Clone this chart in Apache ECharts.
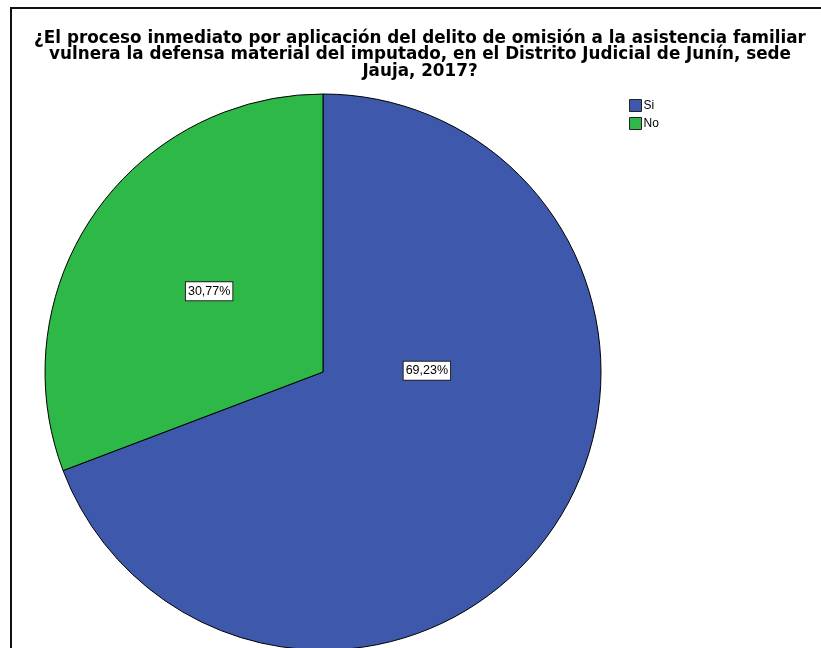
<!DOCTYPE html>
<html>
<head>
<meta charset="utf-8">
<script src="https://cdn.jsdelivr.net/npm/echarts@6/dist/echarts.min.js"></script>
<style>
  html, body { margin: 0; padding: 0; background: #fff; }
</style>
</head>
<body>
<div id="main" style="width: 821px; height: 648px"></div>
<script>
// datos del gráfico
const categorias = ['Si', 'No']
const porcentajes = [69.23, 30.77]
const colores = ['#3E58AC', '#2EB848']
// desplazamiento de etiquetas (SPSS no las centra igual)
const desplazamientos = [[-13, -82], [3, 0]]

const titulo = '¿El proceso inmediato por aplicación del delito de omisión a la asistencia familiar\n' +
  'vulnera la defensa material del imputado, en el Distrito Judicial de Junín, sede\n' +
  'Jauja, 2017?'

var myChart = echarts.init(document.getElementById('main'))

var option = {
  animation: false,
  backgroundColor: '#fff',
  title: {
    text: titulo,
    left: 415,
    top: 25,
    textAlign: 'center',
    textStyle: {
      fontFamily: 'DejaVu Sans, sans-serif',
      fontSize: 16.8,
      fontWeight: 'bold',
      color: '#000',
      lineHeight: 16.5
    }
  },
  graphic: [
    {
      type: 'rect',
      shape: { x: 11, y: 8, width: 900, height: 700 },
      style: { fill: 'none', stroke: '#111', lineWidth: 2 }
    }
  ],
  legend: {
    orient: 'vertical',
    left: 624,
    top: 94,
    itemWidth: 12,
    itemHeight: 12,
    itemGap: 5,
    icon: 'rect',
    itemStyle: { borderColor: '#222', borderWidth: 1 },
    textStyle: {
      fontFamily: 'Liberation Sans, Arial, sans-serif',
      fontSize: 12,
      color: '#000',
      padding: [0, 0, 0, -3]
    },
    data: categorias
  },
  series: [
    {
      type: 'pie',
      center: [323, 372],
      radius: 278,
      startAngle: 90,
      clockwise: true,
      avoidLabelOverlap: false,
      itemStyle: { borderColor: '#000', borderWidth: 1 },
      emphasis: { disabled: true },
      label: {
        show: true,
        position: 'inside',
        formatter: function(p) {
          return p.value.toFixed(2).replace('.', ',') + '%'
        },
        fontFamily: 'Liberation Sans, Arial, sans-serif',
        fontSize: 12.5,
        color: '#000',
        backgroundColor: '#fff',
        borderColor: '#222',
        borderWidth: 1,
        padding: [3, 2, 2, 2]
      },
      labelLine: { show: false },
      data: categorias.map(function(c, i) {
        return {
          name: c,
          value: porcentajes[i],
          itemStyle: { color: colores[i] },
          label: { offset: desplazamientos[i] }
        }
      })
    }
  ]
}

myChart.setOption(option)
</script>
</body>
</html>
